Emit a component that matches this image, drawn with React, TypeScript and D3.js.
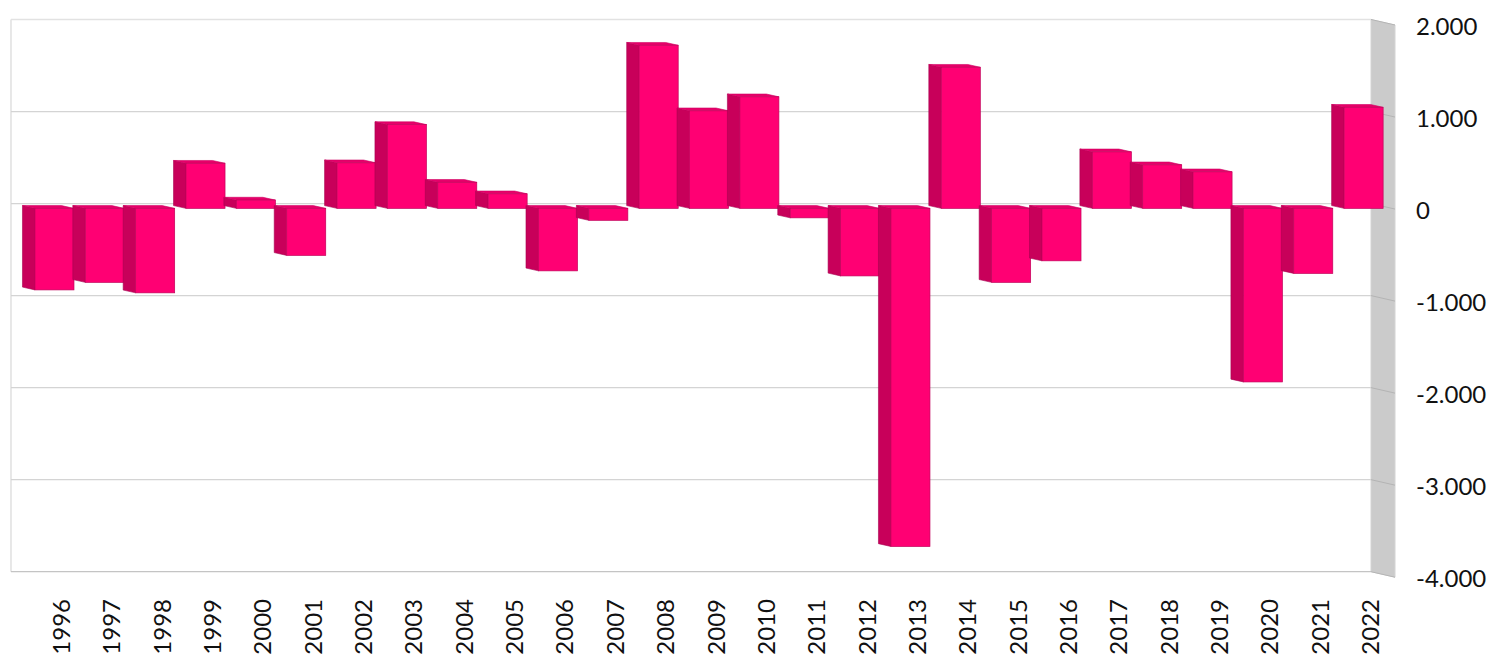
import React from "react";
import * as d3 from "d3";

const years = ["1996","1997","1998","1999","2000","2001","2002","2003","2004","2005","2006","2007","2008","2009","2010","2011","2012","2013","2014","2015","2016","2017","2018","2019","2020","2021","2022"];
const balance = [-886,-804,-918,490,90,-511,495,910,283,158,-679,-130,1772,1060,1212,-103,-734,-3674,1533,-804,-570,614,473,397,-1886,-707,1098];
const yTicks = [2000,1000,0,-1000,-2000,-3000,-4000];
const yLabels = ["2.000","1.000","0","-1.000","-2.000","-3.000","-4.000"];

const W = 1489, H = 654;
const wallBack = d3.scaleLinear().domain([2000,-4000]).range([19.5,571.7]);
const barFront = d3.scaleLinear().domain([2000,-4000]).range([24.3,576.5]);
const x = d3.scaleBand<string>().domain(years).range([29.3,1388.8]).paddingInner(0.2254).paddingOuter(0.1127);
const BAR_DX = 12.5, BAR_DY = 2.8;
const WALL_LEFT = 11, WALL_RIGHT = 1371, WALL_DX = 24, WALL_DY = 5.5;
const pts = (p: number[][]) => p.map(q => q.join(",")).join(" ");
const FONT = "Lato, Carlito, sans-serif";

export default function App() {
  const z = barFront(0);
  return (
    <svg width={W} height={H} viewBox={`0 0 ${W} ${H}`} style={{position:"absolute",left:0,top:0,display:"block",background:"#fff"}}>
      <polygon points={pts([[WALL_RIGHT,wallBack(2000)],[WALL_RIGHT+WALL_DX,wallBack(2000)+WALL_DY],[WALL_RIGHT+WALL_DX,wallBack(-4000)+WALL_DY],[WALL_RIGHT,wallBack(-4000)]])} fill="#cbcbcb" stroke="#d4d4d4" strokeWidth={1}/>
      <line x1={WALL_LEFT} x2={WALL_LEFT} y1={wallBack(2000)} y2={wallBack(-4000)} stroke="#e2e2e2" strokeWidth={1.6}/>
      {yTicks.map((t,i)=>{
        const y = wallBack(t);
        const edge = i===0 ? "#e2e2e2" : i===yTicks.length-1 ? "#c4c4c4" : "#d4d4d4";
        return <g key={t}>
          <line x1={WALL_LEFT} x2={WALL_RIGHT} y1={y} y2={y} stroke={edge} strokeWidth={1.3}/>
          <line x1={WALL_RIGHT} x2={WALL_RIGHT+WALL_DX} y1={y} y2={y+WALL_DY} stroke="#b4b4b4" strokeWidth={1}/>
        </g>;
      })}
      {years.map((yr,i)=>{
        const v = balance[i];
        const x0 = x(yr)!, x1 = x0 + x.bandwidth();
        const yv = barFront(v);
        const t = Math.min(yv,z), b = Math.max(yv,z);
        return <g key={yr}>
          <polygon points={pts([[x0-BAR_DX,t-BAR_DY],[x0,t],[x0,b],[x0-BAR_DX,b-BAR_DY]])} fill="#c8005a" stroke="#a80050" strokeWidth={0.6}/>
          <polygon points={pts([[x0-BAR_DX,t-BAR_DY],[x1-BAR_DX,t-BAR_DY],[x1,t],[x0,t]])} fill="#e6006a" stroke="#d00062" strokeWidth={0.6}/>
          <rect x={x0} y={t} width={x1-x0} height={b-t} fill="#ff0073" stroke="#c2005a" strokeWidth={0.7}/>
        </g>;
      })}
      {yTicks.map((t,i)=>(
        <text key={t} x={1416} y={wallBack(t)+WALL_DY} dominantBaseline="central" fontFamily={FONT} fontSize={24} fill="#111">{yLabels[i]}</text>
      ))}
      {years.map(yr=>{
        const cx = x(yr)! + x.bandwidth()/2 + 6;
        return <text key={yr} transform={`translate(${cx},599) rotate(-90)`} textAnchor="end" dominantBaseline="central" fontFamily={FONT} fontSize={24} fill="#111">{yr}</text>;
      })}
    </svg>
  );
}
